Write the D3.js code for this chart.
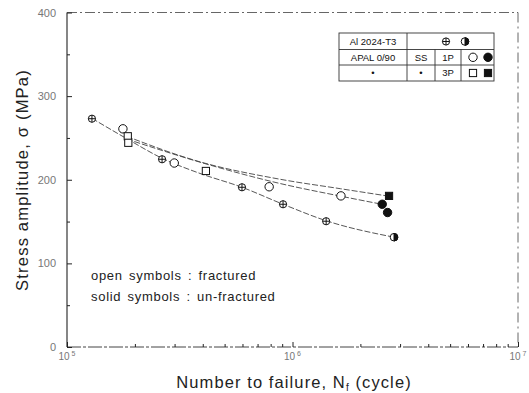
<!DOCTYPE html>
<html><head><meta charset="utf-8">
<script src="https://cdn.jsdelivr.net/npm/d3@7"></script>
<style>body{margin:0;background:#fff}svg{display:block}text{font-family:"Liberation Sans",Arial,sans-serif}</style>
</head><body><svg id="c" width="529" height="393"></svg>
<script>
// ---- data ----
const xMajorTicks = [1e5, 1e6, 1e7];
const xMajorExp = ["5", "6", "7"];
const yTicks = [0, 100, 200, 300, 400];
const yTickLabels = ["0", "100", "200", "300", "400"];

// Al 2024-T3 (fractured / un-fractured)
const alN = [1.29e5, 2.64e5, 5.97e5, 9.08e5, 1.41e6];
const alS = [273, 224.5, 191, 170.7, 150.4];
const alRunN = [2.82e6];
const alRunS = [131.3];
// APAL 0/90 1P
const p1N = [1.77e5, 2.99e5, 7.88e5, 1.64e6];
const p1S = [260.9, 220, 191.6, 180.7];
const p1RunN = [2.50e6, 2.64e6];
const p1RunS = [170.7, 160.8];
// APAL 0/90 3P
const p3N = [1.86e5, 1.87e5, 4.13e5];
const p3S = [252, 244.2, 210.5];
const p3RunN = [2.68e6];
const p3RunS = [180.7];

// fitted curves
const fitAlN = [1.29e5, 1.86e5, 2.64e5, 3.81e5, 5.97e5, 9.08e5, 1.41e6, 2.82e6];
const fitAlS = [273.4, 248.4, 225.7, 208.4, 191.0, 170.7, 151.0, 131.3];
const fit1PN = [1.84e5, 4.09e5, 8.81e5, 1.64e6, 2.49e6];
const fit1PS = [248.7, 219.3, 195.5, 180.3, 170.7];
const fit3PN = [1.84e5, 3.81e5, 8.81e5, 1.63e6, 2.68e6];
const fit3PS = [251.9, 222.1, 200.6, 189.3, 180.3];

// ---- chart ----
const svg = d3.select("#c");
const L = 67, R = 518, T = 12.5, B = 347;
const x = d3.scaleLog().domain([1e5, 1e7]).range([L, R]);
const y = d3.scaleLinear().domain([0, 400]).range([B, T]);
const ink = "#222";

// frame
svg.append("line").attr("x1", L).attr("x2", L).attr("y1", T).attr("y2", B).attr("stroke", ink).attr("stroke-width", 1.1);
svg.append("line").attr("x1", L).attr("x2", R).attr("y1", B).attr("y2", B).attr("stroke", "#444").attr("stroke-width", 1).attr("stroke-dasharray", "14,2,3,2");
svg.append("line").attr("x1", L).attr("x2", R).attr("y1", T).attr("y2", T).attr("stroke", "#555").attr("stroke-width", 0.9).attr("stroke-dasharray", "10,3,2,3");
svg.append("line").attr("x1", R).attr("x2", R).attr("y1", T).attr("y2", B).attr("stroke", "#555").attr("stroke-width", 0.9).attr("stroke-dasharray", "10,4,2,4");

// y axis (inward ticks)
const yAxis = d3.axisRight(y).tickValues(d3.range(0, 401, 50)).tickSize(0).tickFormat("");
const yg = svg.append("g").attr("transform", `translate(${L},0)`).call(yAxis);
yg.select(".domain").remove();
yg.selectAll(".tick line").attr("x2", d => d % 100 === 0 ? 5 : 3).attr("stroke", ink);
svg.selectAll(".ylab").data(yTicks).enter().append("text")
  .attr("x", 56).attr("y", d => y(d) + 4).attr("text-anchor", "end")
  .attr("font-size", 11).attr("fill", "#777").text((d, i) => yTickLabels[i]);

// x axis (inward ticks incl. minor)
const minor = [];
[1e5, 1e6].forEach(b => { for (let k = 2; k <= 9; k++) minor.push(b * k); });
const xg = svg.append("g").attr("transform", `translate(0,${B})`)
  .call(d3.axisTop(x).tickValues(minor.concat(xMajorTicks)).tickSize(0).tickFormat(""));
xg.select(".domain").remove();
xg.selectAll(".tick line").attr("y2", d => xMajorTicks.includes(d) ? -5 : -3).attr("stroke", ink);
const xl = svg.selectAll(".xlab").data(xMajorTicks).enter().append("text")
  .attr("x", d => x(d)).attr("y", 360).attr("text-anchor", "middle")
  .attr("font-size", 10).attr("fill", "#777");
xl.append("tspan").text("10");
xl.append("tspan").attr("dy", -4).attr("font-size", 7).text((d, i) => " " + xMajorExp[i]);

// axis titles
const xt = svg.append("text").attr("x", 294).attr("y", 388).attr("text-anchor", "middle")
  .attr("font-size", 16.5).attr("letter-spacing", 1.1).attr("fill", ink);
xt.append("tspan").text("Number to failure, N");
xt.append("tspan").attr("font-size", 10).attr("dy", 3).text("f");
xt.append("tspan").attr("dy", -3).text(" (cycle)");
svg.append("text").attr("transform", "translate(28,180) rotate(-90)").attr("text-anchor", "middle")
  .attr("font-size", 16.5).attr("letter-spacing", 1.2).attr("fill", ink).text("Stress amplitude, σ (MPa)");

// fitted curves
const line = d3.line().x(d => x(d[0])).y(d => y(d[1])).curve(d3.curveMonotoneX);
[[fitAlN, fitAlS], [fit1PN, fit1PS], [fit3PN, fit3PS]].forEach(([n, s]) => {
  svg.append("path").datum(n.map((v, i) => [v, s[i]])).attr("d", line)
    .attr("fill", "none").attr("stroke", "#444").attr("stroke-width", 0.9).attr("stroke-dasharray", "6,2");
});

// markers
const g = svg.append("g").attr("stroke", "#111").attr("stroke-width", 1);
function crossCircle(sel, cx, cy) {
  sel.append("circle").attr("cx", cx).attr("cy", cy).attr("r", 3.6).attr("fill", "#fff");
  sel.append("path").attr("d", `M${cx - 3.6},${cy}H${cx + 3.6}M${cx},${cy - 3.6}V${cy + 3.6}`);
}
function halfCircle(sel, cx, cy) {
  sel.append("circle").attr("cx", cx).attr("cy", cy).attr("r", 3.8).attr("fill", "#fff");
  sel.append("path").attr("d", `M${cx},${cy - 3.8}A3.8,3.8 0 0 1 ${cx},${cy + 3.8}Z`).attr("fill", "#111");
}
function circ(sel, cx, cy, filled) {
  sel.append("circle").attr("cx", cx).attr("cy", cy).attr("r", 4.2).attr("fill", filled ? "#111" : "#fff");
}
function sq(sel, cx, cy, filled) {
  sel.append("rect").attr("x", cx - 3.6).attr("y", cy - 3.6).attr("width", 7.2).attr("height", 7.2).attr("fill", filled ? "#111" : "#fff");
}
alN.forEach((n, i) => crossCircle(g, x(n), y(alS[i])));
alRunN.forEach((n, i) => halfCircle(g, x(n), y(alRunS[i])));
p1N.forEach((n, i) => circ(g, x(n), y(p1S[i]), false));
p1RunN.forEach((n, i) => circ(g, x(n), y(p1RunS[i]), true));
p3N.forEach((n, i) => sq(g, x(n), y(p3S[i]), false));
p3RunN.forEach((n, i) => sq(g, x(n), y(p3RunS[i]), true));

// annotations
svg.append("text").attr("x", 91).attr("y", 280).attr("font-size", 13).attr("letter-spacing", 0.7).attr("word-spacing", 2).attr("fill", ink).text("open symbols : fractured");
svg.append("text").attr("x", 91).attr("y", 301).attr("font-size", 13).attr("letter-spacing", 0.7).attr("word-spacing", 2).attr("fill", ink).text("solid symbols : un-fractured");

// legend table
const lg = svg.append("g");
const lx0 = 339, lx1 = 407, lx2 = 435, lx3 = 461, lx4 = 494, ly0 = 33, ly1 = 49.5, ly2 = 65, ly3 = 81;
lg.append("rect").attr("x", lx0).attr("y", ly0).attr("width", lx4 - lx0).attr("height", ly3 - ly0)
  .attr("fill", "none").attr("stroke", "#333").attr("stroke-width", 0.9);
const seg = (x1, y1, x2, y2) => lg.append("line").attr("x1", x1).attr("y1", y1).attr("x2", x2).attr("y2", y2).attr("stroke", "#333").attr("stroke-width", 0.9);
seg(lx0, ly1, lx4, ly1); seg(lx0, ly2, lx4, ly2);
seg(lx1, ly0, lx1, ly3); seg(lx2, ly1, lx2, ly3); seg(lx3, ly1, lx3, ly3);
const lt = (tx, ty, s) => lg.append("text").attr("x", tx).attr("y", ty).attr("text-anchor", "middle").attr("font-size", 9.5).attr("fill", "#111").text(s);
lt(373, 45, "Al 2024-T3");
lt(373, 60.5, "APAL 0/90");
lt(373, 76, "•");
lt(421, 60.5, "SS");
lt(421, 76, "•");
lt(448, 60.5, "1P");
lt(448, 76, "3P");
const lm = lg.append("g").attr("stroke", "#111").attr("stroke-width", 1);
crossCircle(lm, 446, 41.5);
halfCircle(lm, 465, 41.5);
circ(lm, 473, 57.3, false);
circ(lm, 488, 57.3, true);
sq(lm, 473, 73, false);
sq(lm, 488, 73, true);
</script></body></html>
